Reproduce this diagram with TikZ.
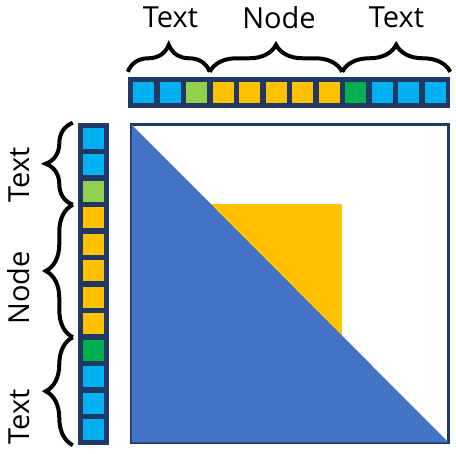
\documentclass[tikz,border=0pt]{standalone}
\usepackage{fontspec}
\setmainfont{Open Sans}
\usepackage{xcolor}
\definecolor{gridNavy}{RGB}{31, 56, 100}
\definecolor{cellBlue}{RGB}{0, 176, 240}
\definecolor{cellLime}{RGB}{146, 208, 80}
\definecolor{cellYellow}{RGB}{255, 192, 0}
\definecolor{cellGreen}{RGB}{0, 176, 80}
\definecolor{triBlue}{RGB}{68, 114, 196}
\usepackage{tikz}
\usetikzlibrary{
    decorations.pathreplacing,
    positioning,
    calc
}

\begin{document}
\begin{tikzpicture}[
    x=1pt, y=1pt,
    barNode/.style={
        rectangle, fill=gridNavy, draw=none, inner sep=0pt
    },
    cellNode/.style={
        rectangle, minimum size=21pt, inner sep=0pt
    },
    matrixBox/.style={
        rectangle, draw=gridNavy, line width=3.5pt, fill=none,
        inner sep=0pt, minimum width=317pt, minimum height=318pt
    },
    braceLine/.style={
        decorate, decoration={brace, amplitude=27pt, raise=5pt},
        line width=4pt, draw=black
    },
    tagLabel/.style={
        font=\fontsize{29}{34}\selectfont, text=black, inner sep=0pt
    }
]
    \useasboundingbox (0,0) rectangle (456,454);

    % Matrix
    \node[matrixBox] (matrix) at (290, 170.5) {};
    \fill[cellYellow] (208,118) rectangle (342,250);
    \fill[triBlue] ($(matrix.north west)+(1.75,-1.75)$) -- ($(matrix.south west)+(1.75,1.75)$)
        -- ($(matrix.south east)+(-1.75,1.75)$) -- cycle;

    % Top row of tokens
    \node[barNode, minimum width=322pt, minimum height=31pt] (rowBar) at (289, 361.5) {};
    \foreach \c [count=\i] in {cellBlue,cellBlue,cellLime,cellYellow,cellYellow,cellYellow,
                               cellYellow,cellYellow,cellGreen,cellBlue,cellBlue,cellBlue}
        \node[cellNode, fill=\c] (r\i) at (117+26.5*\i, 361.5) {};

    % Left column of tokens
    \node[barNode, minimum width=31pt, minimum height=322pt] (colBar) at (93.5, 170) {};
    \foreach \c [count=\i] in {cellBlue,cellBlue,cellLime,cellYellow,cellYellow,cellYellow,
                               cellYellow,cellYellow,cellGreen,cellBlue,cellBlue,cellBlue}
        \node[cellNode, fill=\c] (c\i) at (93.5, 342-26.5*\i) {};

    % Cut points between groups
    \coordinate (rowCutA) at ($(r3)!.5!(r4)$);
    \coordinate (rowCutB) at ($(r8)!.5!(r9)$);
    \coordinate (colCutA) at ($(c3)!.5!(c4)$);
    \coordinate (colCutB) at ($(c8)!.5!(c9)$);

    % Braces
    \draw[braceLine] (rowBar.north west) -- (rowCutA |- rowBar.north);
    \draw[braceLine] (rowCutA |- rowBar.north) -- (rowCutB |- rowBar.north);
    \draw[braceLine] (rowCutB |- rowBar.north) -- (rowBar.north east);

    \draw[braceLine] (colCutA -| colBar.west) -- (colBar.north west);
    \draw[braceLine] (colCutB -| colBar.west) -- (colCutA -| colBar.west);
    \draw[braceLine] (colBar.south west) -- (colCutB -| colBar.west);

    % Labels
    \node[tagLabel] (topTextA) at (170.5, 436.5) {Text};
    \node[tagLabel] (topNode) at (279, 436.5) {Node};
    \node[tagLabel] (topTextB) at (396.5, 436.5) {Text};

    \node[tagLabel, rotate=90] (leftTextA) at (19, 279) {Text};
    \node[tagLabel, rotate=90] (leftNode) at (19, 166) {Node};
    \node[tagLabel, rotate=90] (leftTextB) at (19, 37) {Text};

\end{tikzpicture}
\end{document}
